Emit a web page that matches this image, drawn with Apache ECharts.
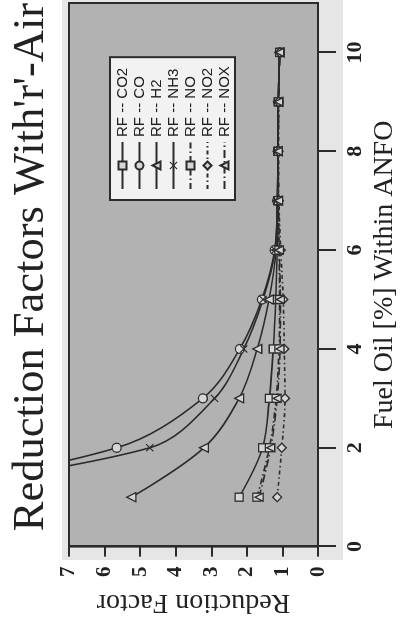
<!DOCTYPE html>
<html>
<head>
<meta charset="utf-8">
<script src="https://cdn.jsdelivr.net/npm/echarts@6/dist/echarts.min.js"></script>
<style>
  html, body { margin: 0; padding: 0; background: #fff; }
  #wrap { position: absolute; left: 0; top: 0; width: 404px; height: 624px; overflow: hidden; }
  /* the picture is the chart turned a quarter turn counter-clockwise */
  #chart { position: absolute; left: -110px; top: 110px; width: 624px; height: 404px; transform: rotate(-90deg); }
</style>
</head>
<body>
<div id="wrap"><div id="chart"></div></div>
<script>
// fuel oil [%]
var fuelOil = [1, 2, 3, 4, 5, 6, 7, 8, 9, 10]
var xTicks = [0, 2, 4, 6, 8, 10]

// reduction factors
var rfCO2 = [2.22, 1.56, 1.37, 1.26, 1.19, 1.15, 1.14, 1.13, 1.12, 1.08]
var rfCO = [12.5, 5.66, 3.24, 2.20, 1.58, 1.22, 1.15, 1.13, 1.12, 1.08]
var rfH2 = [5.25, 3.21, 2.22, 1.71, 1.38, 1.18, 1.14, 1.13, 1.12, 1.08]
var rfNH3 = [13, 4.73, 2.91, 2.09, 1.55, 1.21, 1.15, 1.13, 1.12, 1.08]
var rfNO = [1.72, 1.37, 1.18, 1.10, 1.08, 1.10, 1.12, 1.12, 1.11, 1.08]
var rfNO2 = [1.15, 1.02, 0.93, 0.95, 0.98, 1.05, 1.10, 1.11, 1.11, 1.08]
var rfNOX = [1.66, 1.33, 1.15, 1.07, 1.06, 1.09, 1.11, 1.12, 1.11, 1.08]

var names = ['RF -- CO2', 'RF -- CO', 'RF -- H2', 'RF -- NH3', 'RF -- NO', 'RF -- NO2', 'RF -- NOX']

var ink = '#2b2b2b'
var crossPath = 'path://M0,1L1,0L5,4L9,0L10,1L6,5L10,9L9,10L5,6L1,10L0,9L4,5Z'

function pairs (ys) {
  return fuelOil.map(function (x, i) { return [x, ys[i]] })
}

function makeSeries (name, ys, symbol, dash, size) {
  var cross = symbol === crossPath
  return {
    name: name,
    type: 'line',
    data: pairs(ys),
    smooth: 0.35,
    symbol: symbol,
    symbolSize: size || 8,
    showSymbol: true,
    lineStyle: { color: ink, width: 1.6, type: dash || 'solid' },
    itemStyle: {
      color: cross ? ink : '#d6d6d6',
      borderColor: ink,
      borderWidth: cross ? 0 : 1.3
    },
    emphasis: { disabled: true }
  }
}

var chart = echarts.init(document.getElementById('chart'))

chart.setOption({
  animation: false,
  textStyle: { fontFamily: 'Liberation Serif' },
  graphic: [
    {
      type: 'rect',
      z: -10,
      shape: { x: 64, y: 62, width: 560, height: 281 },
      style: { fill: '#e6e6e6' }
    },
    {
      type: 'text',
      x: 357,
      y: 31,
      style: {
        text: "Reduction Factors With'r'-Air",
        font: '44.5px "Liberation Serif"',
        fill: '#222',
        textAlign: 'center',
        textVerticalAlign: 'middle'
      }
    }
  ],
  grid: {
    left: 76,
    right: 3,
    top: 69,
    bottom: 80,
    show: true,
    backgroundColor: '#b2b2b2',
    borderColor: ink,
    borderWidth: 2
  },
  legend: {
    orient: 'vertical',
    left: 424,
    top: 110,
    padding: [4, 9, 2, 10],
    itemWidth: 47,
    itemHeight: 10,
    itemGap: 0,
    backgroundColor: '#f2f2f2',
    borderColor: ink,
    borderWidth: 2,
    borderRadius: 0,
    data: names,
    textStyle: { fontFamily: 'Liberation Sans', fontSize: 15, lineHeight: 17, color: '#222', padding: [0, 0, 0, 0] }
  },
  xAxis: {
    type: 'value',
    min: 0,
    max: 11,
    interval: 2,
    name: 'Fuel Oil [%] Within ANFO',
    nameLocation: 'middle',
    nameGap: 52,
    nameTextStyle: { fontFamily: 'Liberation Serif', fontSize: 28, color: '#222' },
    axisLine: { show: true, lineStyle: { color: ink, width: 2 } },
    axisTick: { show: true, length: 18, customValues: xTicks, lineStyle: { color: ink, width: 2 } },
    axisLabel: {
      customValues: xTicks,
      margin: 26,
      fontFamily: 'Liberation Serif',
      fontWeight: 'bold',
      fontSize: 22,
      color: '#222'
    },
    splitLine: { show: false }
  },
  yAxis: {
    type: 'value',
    min: 0,
    max: 7,
    interval: 1,
    name: 'Reduction Factor',
    nameLocation: 'middle',
    nameGap: 40,
    nameTextStyle: { fontFamily: 'Liberation Serif', fontSize: 28, color: '#222' },
    axisLine: { show: true, lineStyle: { color: ink, width: 2 } },
    axisTick: { show: true, length: 10, lineStyle: { color: ink, width: 2 } },
    axisLabel: {
      margin: 20,
      fontFamily: 'Liberation Serif',
      fontWeight: 'bold',
      fontSize: 21,
      color: '#222'
    },
    splitLine: { show: false }
  },
  series: [
    makeSeries(names[0], rfCO2, 'rect'),
    makeSeries(names[1], rfCO, 'circle', null, 9),
    makeSeries(names[2], rfH2, 'triangle', null, 9),
    makeSeries(names[3], rfNH3, crossPath, null, 8),
    makeSeries(names[4], rfNO, 'rect', [6, 3, 1.5, 3]),
    makeSeries(names[5], rfNO2, 'diamond', [4, 3, 1.5, 3], 9),
    makeSeries(names[6], rfNOX, 'triangle', [8, 3, 1.5, 3], 8)
  ]
})
</script>
</body>
</html>
